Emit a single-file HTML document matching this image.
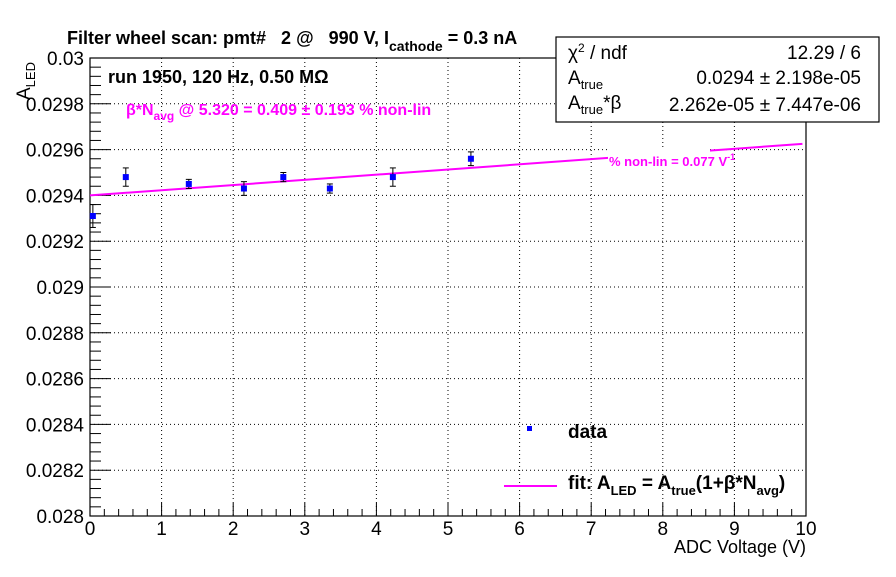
<!DOCTYPE html>
<html><head><meta charset="utf-8"><style>
body{margin:0;background:#fff;}
svg text{font-family:"Liberation Sans",sans-serif;white-space:pre;}
</style></head><body>
<svg id="c" width="896" height="572" xmlns="http://www.w3.org/2000/svg">
<rect width="896" height="572" fill="#fff"/>
<g id="grid"></g><g id="axes"></g><g id="marks"></g>
<text x="67" y="44" font-size="18" font-weight="bold" xml:space="preserve">Filter wheel scan: pmt#   2 @   990 V, I<tspan font-size="14" dy="7">cathode</tspan><tspan dy="-7"> = 0.3 nA</tspan></text>
<text transform="translate(30,100) rotate(-90)" font-size="19">A<tspan font-size="13" dy="5">LED</tspan></text>
<text x="806" y="553" font-size="18" text-anchor="end">ADC Voltage (V)</text>
<text x="108" y="83" font-size="18" font-weight="bold">run 1950, 120 Hz, 0.50 MΩ</text>
<text x="126" y="115" font-size="16" font-weight="bold" fill="#f0f">β*N<tspan font-size="12" dy="5">avg</tspan><tspan dy="-5"> @ 5.320 = 0.409 ± 0.193 % non-lin</tspan></text>
<rect x="608" y="148" width="102" height="22" fill="#fff"/>
<text x="609" y="166" font-size="13" font-weight="bold" fill="#f0f">% non-lin = 0.077 V<tspan font-size="9" dy="-6">-1</tspan></text>
<g>
<rect x="556" y="37" width="323" height="85" fill="#fff" stroke="#000" stroke-width="1.2"/>
<text x="568" y="59" font-size="19">χ<tspan font-size="12" dy="-7">2</tspan><tspan dy="7"> / ndf</tspan></text>
<text x="861" y="59" font-size="19" text-anchor="end">12.29 / 6</text>
<text x="568" y="84" font-size="19">A<tspan font-size="13" dy="5">true</tspan></text>
<text x="861" y="84" font-size="19" text-anchor="end">0.0294 ± 2.198e-05</text>
<text x="568" y="109" font-size="19">A<tspan font-size="13" dy="5">true</tspan><tspan dy="-5">*β</tspan></text>
<text x="861" y="111" font-size="19" text-anchor="end">2.262e-05 ± 7.447e-06</text>
</g>
<g>
<rect x="527" y="426" width="5" height="5" fill="#00f"/>
<text x="568" y="438" font-size="19" font-weight="bold">data</text>
<line x1="504" y1="486" x2="557" y2="486" stroke="#f0f" stroke-width="2"/>
<text x="568" y="489" font-size="19" font-weight="bold">fit: A<tspan font-size="13" dy="6">LED</tspan><tspan dy="-6"> = A</tspan><tspan font-size="13" dy="6">true</tspan><tspan dy="-6">(1+β*N</tspan><tspan font-size="13" dy="6">avg</tspan><tspan dy="-6">)</tspan></text>
</g>
</svg>
<script>
const xVals=[0.04,0.5,1.38,2.15,2.7,3.35,4.23,5.32];
const yVals=[0.02931,0.02948,0.02945,0.02943,0.02948,0.02943,0.02948,0.02956];
const yErrs=[0.00005,0.00004,0.00002,0.00003,0.00002,0.00002,0.00004,0.00003];
const fitA=0.0294, fitAB=2.262e-05;
const xTicks=[0,1,2,3,4,5,6,7,8,9,10];
const yTicks=[0.028,0.0282,0.0284,0.0286,0.0288,0.029,0.0292,0.0294,0.0296,0.0298,0.03];
const yTickLabels=["0.028","0.0282","0.0284","0.0286","0.0288","0.029","0.0292","0.0294","0.0296","0.0298","0.03"];
const L=90,R=806,T=58,B=516,xmin=0,xmax=10,ymin=0.028,ymax=0.030;
const sx=v=>L+(v-xmin)/(xmax-xmin)*(R-L);
const sy=v=>B-(v-ymin)/(ymax-ymin)*(B-T);
const NS="http://www.w3.org/2000/svg";
function mk(p,t,a){const e=document.createElementNS(NS,t);for(const k in a)e.setAttribute(k,a[k]);p.appendChild(e);return e;}
const grid=document.getElementById('grid'),axes=document.getElementById('axes'),marks=document.getElementById('marks');
xTicks.forEach((v,i)=>{
 if(i>0&&i<xTicks.length-1){const g=mk(grid,'line',{x1:sx(v),x2:sx(v),y1:T,y2:B,stroke:'#000','stroke-dasharray':'1,3','stroke-width':1});
 
 }
 mk(axes,'line',{x1:sx(v),x2:sx(v),y1:B,y2:B-13,stroke:'#000'});
 const t=mk(axes,'text',{x:sx(v),y:B+19,'font-size':19,'text-anchor':'middle'});t.textContent=v;
 
 
 if(i<xTicks.length-1)for(let k=1;k<5;k++){const xv=v+k*0.2;mk(axes,'line',{x1:sx(xv),x2:sx(xv),y1:B,y2:B-7,stroke:'#000'});}
});
yTicks.forEach((v,i)=>{
 if(i>0&&i<yTicks.length-1){const g=mk(grid,'line',{x1:L,x2:R,y1:sy(v),y2:sy(v),stroke:'#000','stroke-dasharray':'1,3','stroke-width':1});
 
 }
 mk(axes,'line',{x1:L,x2:L+21,y1:sy(v),y2:sy(v),stroke:'#000'});
 const t=mk(axes,'text',{x:L-6,y:sy(v)+7,'font-size':19,'text-anchor':'end'});t.textContent=yTickLabels[i];
 
 
 if(i<yTicks.length-1)for(let k=1;k<5;k++){const yv=v+k*0.00004;mk(axes,'line',{x1:L,x2:L+11,y1:sy(yv),y2:sy(yv),stroke:'#000'});}
});
const fr=mk(axes,'rect',{x:L,y:T,width:R-L,height:B-T,fill:'none',stroke:'#000','stroke-width':1.2});


const fit=x=>fitA+fitAB*x;
const fl=mk(marks,'line',{x1:sx(0),y1:sy(fit(0)),x2:sx(9.95),y2:sy(fit(9.95)),stroke:'#f0f','stroke-width':2});


xVals.forEach((x,i)=>{
 const cx=sx(x),y0=sy(yVals[i]-yErrs[i]),y1=sy(yVals[i]+yErrs[i]);
 const eb=mk(marks,'g',{});
 
 
 mk(eb,'line',{x1:cx,x2:cx,y1:y0,y2:y1,stroke:'#000'});
 mk(eb,'line',{x1:cx-3,x2:cx+3,y1:y0,y2:y0,stroke:'#000'});
 mk(eb,'line',{x1:cx-3,x2:cx+3,y1:y1,y2:y1,stroke:'#000'});
 mk(eb,'rect',{x:cx-3,y:sy(yVals[i])-3,width:6,height:6,fill:'#00f'});
});
</script>
</body></html>
